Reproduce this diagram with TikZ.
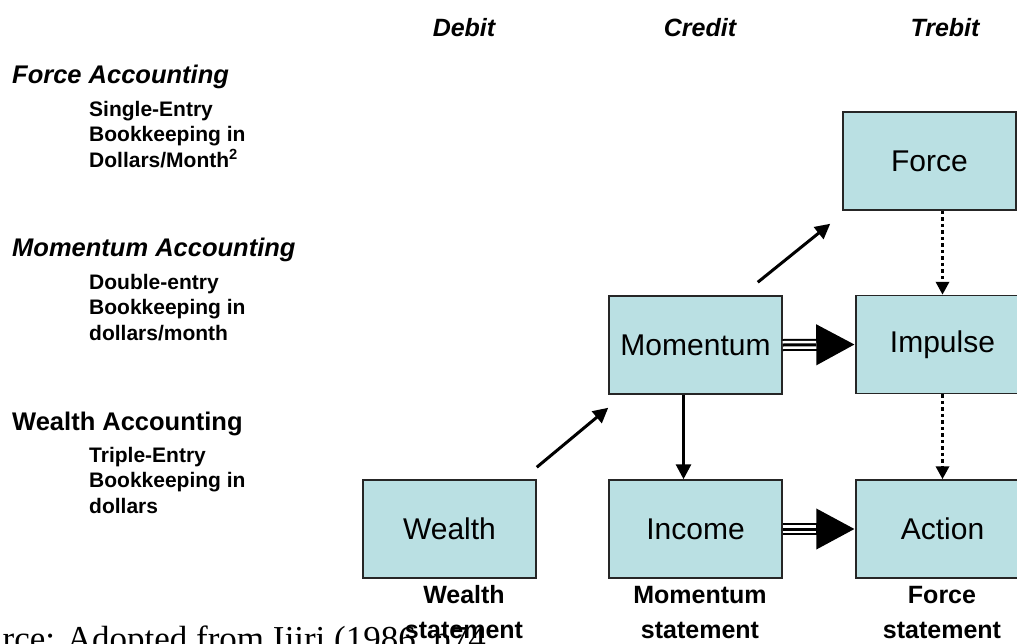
\documentclass[tikz,border=0pt]{standalone}
\usepackage{fontspec}
\setmainfont{Liberation Sans}
\newfontfamily\capfont{Liberation Serif}
\usetikzlibrary{arrows.meta}
\definecolor{boxcol}{RGB}{186,224,227}
\begin{document}
\begin{tikzpicture}[x=1pt,y=-1pt,
  box/.style={draw=black!85, line width=1.5pt, fill=boxcol, minimum width=173pt, minimum height=98pt, inner sep=0pt, font=\fontsize{30}{36}\selectfont},
  colhead/.style={anchor=base, font=\fontsize{25}{30}\selectfont\bfseries\itshape},
  acchead/.style={anchor=base west, inner sep=0pt, font=\fontsize{25.5}{30}\selectfont\bfseries},
  accsub/.style={anchor=base west, inner sep=0pt, align=left, font=\fontsize{21}{25.5}\selectfont\bfseries},
  stmt/.style={anchor=base, inner sep=0pt, align=center, font=\fontsize{25}{35}\selectfont\bfseries},
  arr/.style={line width=3pt, -{Triangle[length=15pt,width=15pt]}},
  dotarr/.style={line width=3.5pt, dash pattern=on 3.5pt off 3pt, -{Triangle[length=13pt,width=13pt]}},
  triarr/.style={line width=12pt, -{Triangle[length=39pt,width=38pt]},
    postaction={draw=white, line width=8pt, shorten >=39pt, arrows=-},
    postaction={draw=black, line width=3pt, shorten >=39pt, arrows=-}}
]
\useasboundingbox (0,0) rectangle (1017,643);
% column headers
\node[colhead] (hdebit) at (464,36) {Debit};
\node[colhead] (hcredit) at (700,36) {Credit};
\node[colhead] (htrebit) at (945,36) {Trebit};
% left texts
\node[acchead, font=\fontsize{25.5}{30}\selectfont\bfseries\itshape] (facc) at (12,83) {Force Accounting};
\node[accsub] (fsub) at (89,167) {Single-Entry\\Bookkeeping in\\Dollars/Month\textsuperscript{2}};
\node[acchead, font=\fontsize{25.5}{30}\selectfont\bfseries\itshape] (macc) at (12,256) {Momentum Accounting};
\node[accsub] (msub) at (89,340) {Double-entry\\Bookkeeping in\\dollars/month};
\node[acchead] (wacc) at (12,430) {Wealth Accounting};
\node[accsub] (wsub) at (89,513) {Triple-Entry\\Bookkeeping in\\dollars};
% caption
\node[anchor=base west, inner sep=0pt, font=\fontsize{35}{40}\selectfont\capfont] (cap) at (-15,650) {urce: Adopted from Ijiri (1986, p74};
% boxes
\node[box] (Force) at (929.5,161) {Force};
\node[box] (Momentum) at (695.5,345) {Momentum};
\node[box] (Impulse) at (942.5,344.5) {Impulse};
\node[box] (Wealth) at (449.5,529) {Wealth};
\node[box] (Income) at (695.5,529) {Income};
\node[box] (Action) at (942.5,529) {Action};
% statements
\node[stmt] (sw) at (464,638) {Wealth\\statement};
\node[stmt] (sm) at (700,638) {Momentum\\statement};
\node[stmt] (sf) at (942,638) {Force\\statement};
% arrows
\draw[arr] ([yshift=12pt]Wealth.north east) -- ([yshift=-13pt]Momentum.south west);
\draw[arr] ([xshift=-25pt,yshift=13pt]Momentum.north east) -- ([xshift=-12pt,yshift=-13pt]Force.south west);
\draw[arr] ([xshift=-12pt]Momentum.south) -- ([xshift=-12pt]Income.north);
\draw[triarr] (Momentum.east) -- (Impulse.west);
\draw[triarr] (Income.east) -- (Action.west);
\draw[dotarr] (Force.south -| Impulse.north) -- (Impulse.north);
\draw[dotarr] (Impulse.south) -- (Action.north);
\end{tikzpicture}
\end{document}
